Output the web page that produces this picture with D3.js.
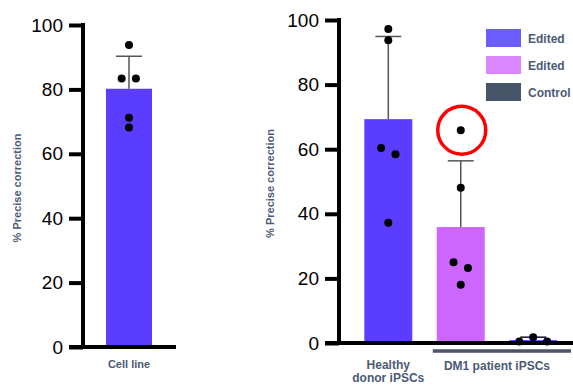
<!DOCTYPE html>
<html>
<head>
<meta charset="utf-8">
<script src="https://cdn.jsdelivr.net/npm/d3@7"></script>
<style>
  body { margin: 0; background: #fff; }
  svg { display: block; font-family: "Liberation Sans", Arial, sans-serif; }
</style>
</head>
<body>
<svg id="chart" width="573" height="385"></svg>
<script>
// left panel: cell line
var leftCats = ['Cell line'];
var leftMeans = [80.2];
var leftSD = [90.3];
var leftPoints = [[93.8, 83.4, 83.4, 71.2, 68.2]];
var leftJitter = [[0, -0.16, 0.15, 0, 0]];

// right panel: iPSCs
var rightCats = ['healthy', 'dm1Edited', 'dm1Control'];
var rightMeans = [69.3, 35.9, 0.9];
var rightSD = [94.9, 56.4, 1.8];
var rightPoints = [
  [97.2, 93.7, 60.4, 58.4, 37.2],
  [65.9, 48.1, 25.0, 23.2, 18.0],
  [0.5, 1.8, 0.5]
];
var rightJitter = [
  [0, 0, -0.15, 0.15, 0],
  [0, 0, -0.15, 0.15, 0],
  [-0.29, 0, 0.29]
];
var rightColors = ['#5a3dff', '#cc66ff', '#5a3dff'];

var yTicks = [0, 20, 40, 60, 80, 100];
var legendLabels = ['Edited', 'Edited', 'Control'];
var legendColors = ['#6b5cff', '#d986ff', '#475569'];

var svg = d3.select('#chart');
var labelColor = '#4b5a75';

function panel(opts) {
  var g = svg.append('g');
  var y = d3.scaleLinear().domain([0, 100]).range(opts.yRange);
  var x = d3.scaleBand().domain(opts.cats).range(opts.xRange)
    .paddingInner(opts.padIn).paddingOuter(opts.padOut);

  // bars
  g.selectAll('rect.bar')
    .data(opts.means)
    .enter()
    .append('rect')
    .attr('class', 'bar')
    .attr('x', function (d, i) { return x(opts.cats[i]); })
    .attr('width', x.bandwidth())
    .attr('y', function (d) { return y(d); })
    .attr('height', function (d) { return y(0) - y(d); })
    .attr('fill', function (d, i) { return opts.colors[i]; });

  // error bars
  opts.sd.forEach(function (top, i) {
    var cx = x(opts.cats[i]) + x.bandwidth() / 2;
    var line = opts.means[i] < 5 ? '#111' : '#555';
    g.append('line')
      .attr('x1', cx).attr('x2', cx)
      .attr('y1', y(opts.means[i])).attr('y2', y(top))
      .attr('stroke', line).attr('stroke-width', 1.5);
    g.append('line')
      .attr('x1', cx - 13).attr('x2', cx + 13)
      .attr('y1', y(top)).attr('y2', y(top))
      .attr('stroke', line).attr('stroke-width', 1.5);
  });

  // dots
  opts.points.forEach(function (pts, i) {
    var cx = x(opts.cats[i]) + x.bandwidth() / 2;
    g.selectAll(null)
      .data(pts)
      .enter()
      .append('circle')
      .attr('cx', function (d, j) { return cx + opts.jitter[i][j] * x.bandwidth(); })
      .attr('cy', function (d) { return y(d); })
      .attr('r', 4)
      .attr('fill', '#000');
  });

  // y axis
  var axis = d3.axisLeft(y).tickValues(yTicks).tickSize(14).tickPadding(6);
  var ag = g.append('g')
    .attr('transform', 'translate(' + opts.axisX + ',0)')
    .call(axis);
  ag.select('.domain').remove();
  ag.selectAll('.tick line').attr('stroke', '#000').attr('stroke-width', 4);
  ag.selectAll('.tick text')
    .attr('font-size', 19)
    .attr('fill', '#000')
    .attr('font-family', '"Liberation Sans", Arial, sans-serif');
  g.append('line')
    .attr('x1', opts.axisX).attr('x2', opts.axisX)
    .attr('y1', y(100) - 2).attr('y2', y(0) + 2)
    .attr('stroke', '#000').attr('stroke-width', 4);
  // baseline
  g.append('line')
    .attr('x1', opts.axisX - 14).attr('x2', opts.baseEnd)
    .attr('y1', y(0)).attr('y2', y(0))
    .attr('stroke', '#000').attr('stroke-width', 4);

  // y label
  g.append('text')
    .attr('transform', 'translate(' + opts.labelX + ',' + (y(50) + 2) + ') rotate(-90)')
    .attr('text-anchor', 'middle')
    .attr('font-size', 11)
    .attr('font-weight', 'bold')
    .attr('fill', labelColor)
    .text('% Precise correction');

  return { g: g, x: x, y: y };
}

// left
var L = panel({
  cats: leftCats, means: leftMeans, sd: leftSD, points: leftPoints, jitter: leftJitter,
  colors: ['#5a3dff'], yRange: [347, 25], xRange: [83, 175],
  padIn: 1 / 3, padOut: 1 / 3, axisX: 83, baseEnd: 176, labelX: 21
});
L.g.append('text')
  .attr('x', L.x('Cell line') + L.x.bandwidth() / 2)
  .attr('y', 368)
  .attr('text-anchor', 'middle')
  .attr('font-size', 11)
  .attr('font-weight', 'bold')
  .attr('fill', labelColor)
  .text('Cell line');

// right
var R = panel({
  cats: rightCats, means: rightMeans, sd: rightSD, points: rightPoints, jitter: rightJitter,
  colors: rightColors, yRange: [343, 20], xRange: [352, 569.5],
  padIn: 0.338, padOut: 0.17, axisX: 339, baseEnd: 573, labelX: 274
});

// red circle round the outlier
R.g.append('circle')
  .attr('cx', R.x('dm1Edited') + R.x.bandwidth() / 2 + 1)
  .attr('cy', R.y(rightPoints[1][0]))
  .attr('r', 24)
  .attr('fill', 'none')
  .attr('stroke', '#ff0000')
  .attr('stroke-width', 3.5);

// group bracket under DM1
R.g.append('line')
  .attr('x1', R.x('dm1Edited') - 4)
  .attr('x2', 571)
  .attr('y1', 351).attr('y2', 351)
  .attr('stroke', '#4a5568').attr('stroke-width', 3.5);

var hx = R.x('healthy') + R.x.bandwidth() / 2;
R.g.append('text')
  .attr('x', hx).attr('y', 369)
  .attr('text-anchor', 'middle')
  .attr('font-size', 12).attr('font-weight', 'bold').attr('fill', labelColor)
  .selectAll('tspan')
  .data(['Healthy', 'donor iPSCs'])
  .enter()
  .append('tspan')
  .attr('x', hx)
  .attr('dy', function (d, i) { return i ? 12.5 : 0; })
  .text(function (d) { return d; });

R.g.append('text')
  .attr('x', (R.x('dm1Edited') + R.x('dm1Control') + R.x.bandwidth()) / 2)
  .attr('y', 370)
  .attr('text-anchor', 'middle')
  .attr('font-size', 12).attr('font-weight', 'bold').attr('fill', labelColor)
  .text('DM1 patient iPSCs');

// legend
var lg = svg.append('g').attr('transform', 'translate(486,29)');
var item = lg.selectAll('g')
  .data(legendLabels)
  .enter()
  .append('g')
  .attr('transform', function (d, i) { return 'translate(0,' + i * 27 + ')'; });
item.append('rect')
  .attr('width', 35).attr('height', 18)
  .attr('fill', function (d, i) { return legendColors[i]; });
item.append('text')
  .attr('x', 42).attr('y', 14)
  .attr('font-size', 12).attr('font-weight', 'bold').attr('fill', labelColor)
  .text(function (d) { return d; });
</script>
</body>
</html>
